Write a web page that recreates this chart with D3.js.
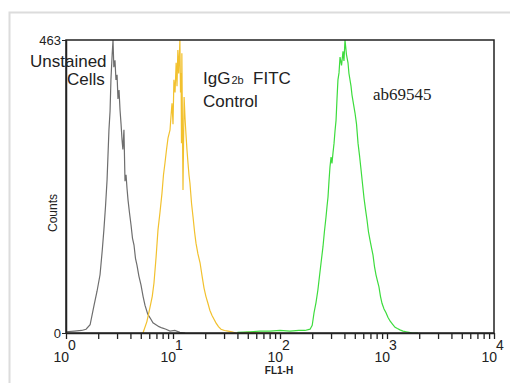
<!DOCTYPE html>
<html>
<head>
<meta charset="utf-8">
<script src="https://cdn.jsdelivr.net/npm/d3@7"></script>
<style>
  body { margin: 0; background: #fff; }
  svg { display: block; }
</style>
</head>
<body>
<svg width="510" height="383"></svg>
<script>
// FL1-H value (log) and counts for each histogram
var grayFl = [1.0, 1.2, 1.4, 1.54, 1.68, 1.83, 1.95, 2.08, 2.18, 2.26, 2.34, 2.42, 2.52, 2.58, 2.63, 2.70, 2.75, 2.80, 2.87, 2.93, 3.00, 3.06, 3.13, 3.20, 3.27, 3.34, 3.40, 3.48, 3.56, 3.64, 3.72, 3.80, 3.92, 4.05, 4.18, 4.32, 4.46, 4.61, 4.80, 5.02, 5.25, 5.47, 5.80, 6.10, 6.50, 6.93, 7.40, 7.89, 8.60, 9.38, 10.4, 11.6, 13.0];
var grayCt = [2, 3, 4, 6, 13, 44, 66, 92, 130, 163, 200, 242, 321, 350, 400, 440, 463, 420, 431, 400, 408, 370, 384, 352, 330, 305, 290, 321, 240, 250, 228, 210, 190, 171, 150, 139, 118, 107, 90, 76, 58, 44, 30, 24, 16, 13, 10, 8, 6, 3, 4, 1, 0];

var yellowFl = [5.24, 5.70, 6.10, 6.40, 6.64, 6.95, 7.24, 7.55, 7.89, 8.15, 8.42, 8.70, 8.98, 9.38, 9.60, 9.79, 10.0, 10.2, 10.45, 10.7, 10.9, 11.1, 11.3, 11.6, 11.75, 11.9, 12.0, 12.1, 12.25, 12.4, 12.55, 12.7, 12.95, 13.2, 13.5, 13.8, 14.1, 14.4, 14.9, 15.4, 15.9, 16.4, 17.1, 17.9, 18.7, 19.5, 20.3, 21.2, 22.1, 23.1, 24.1, 25.2, 26.6, 28.1, 30.3, 32.7, 35.5, 38.8, 50, 70, 100];
var yellowCt = [0, 18, 41, 58, 79, 120, 163, 190, 221, 250, 269, 290, 308, 321, 345, 363, 330, 400, 380, 427, 390, 447, 410, 463, 380, 411, 300, 442, 330, 226, 300, 373, 340, 316, 290, 269, 250, 237, 205, 183, 160, 142, 125, 111, 90, 71, 58, 47, 36, 28, 22, 16, 10, 6, 4, 3, 2, 0, 1, 0, 0];

var greenFl = [40, 52.5, 65, 80.7, 100, 124, 150, 171, 191, 200, 208, 217, 226, 234, 242, 252, 260, 269, 275, 281, 287, 293, 300, 306, 313, 320, 327, 334, 341, 348, 356, 364, 376, 388, 396, 405, 418, 432, 441, 451, 461, 471, 486, 502, 519, 536, 554, 572, 591, 610, 630, 650, 671, 693, 716, 740, 764, 789, 815, 841, 869, 898, 938, 979, 1020, 1067, 1125, 1189, 1250, 1322, 1410, 1506, 1610, 1714, 1830, 1951];
var greenCt = [1, 2, 3, 3, 4, 3, 4, 4, 6, 12, 32, 48, 68, 90, 111, 136, 160, 183, 200, 215, 240, 262, 278, 268, 285, 300, 320, 336, 370, 400, 411, 436, 423, 445, 430, 463, 440, 427, 410, 400, 390, 376, 362, 348, 330, 300, 280, 258, 235, 213, 195, 179, 160, 147, 135, 123, 105, 92, 82, 73, 58, 47, 38, 32, 25, 19, 14, 9, 7, 5, 3, 2, 1, 0, 0, 0];

var series = [
  { fl: grayFl, ct: grayCt, color: '#6e6e6e' },
  { fl: yellowFl, ct: yellowCt, color: '#f2c12e' },
  { fl: greenFl, ct: greenCt, color: '#3ddc3d' }
];

var decades = [1, 10, 100, 1000, 10000];
var decadeExp = ['0', '1', '2', '3', '4'];
var yMax = 463;

var svg = d3.select('svg');

// light frame around the figure
svg.append('path')
  .attr('d', 'M9.5,383 V12.5 H510')
  .attr('fill', 'none')
  .attr('stroke', '#dcdcdc')
  .attr('stroke-width', 2);

var x = d3.scaleLog().domain([1, 10000]).range([66, 494]);
var y = d3.scaleLinear().domain([0, yMax]).range([333, 40]);

// curves
var line = d3.line()
  .x(d => x(d[0]))
  .y(d => y(d[1]));

series.forEach(function(s) {
  var pts = s.fl.map((v, i) => [v, s.ct[i]]);
  svg.append('path')
    .datum(pts)
    .attr('d', line)
    .attr('fill', 'none')
    .attr('stroke', s.color)
    .attr('stroke-width', 1.2);
});

// box
svg.append('rect')
  .attr('x', x(1))
  .attr('y', y(yMax))
  .attr('width', x(10000) - x(1))
  .attr('height', y(0) - y(yMax))
  .attr('fill', 'none')
  .attr('stroke', '#222')
  .attr('stroke-width', 1.5);

// bottom axis, log minor ticks
var xAxis = d3.axisBottom(x)
  .tickValues(x.ticks())
  .tickFormat('')
  .tickSize(6)
  .tickSizeOuter(0);
var gx = svg.append('g')
  .attr('transform', 'translate(0,' + y(0) + ')')
  .call(xAxis);
gx.select('.domain').attr('stroke', '#222').attr('stroke-width', 1.5);
gx.selectAll('.tick line').attr('stroke', '#222').attr('stroke-width', 1.3);

// left axis: only 0 and max
var yAxis = d3.axisLeft(y)
  .tickValues([0, yMax])
  .tickSize(4)
  .tickSizeOuter(0)
  .tickFormat(d3.format('d'));
var gy = svg.append('g')
  .attr('transform', 'translate(' + x(1) + ',0)')
  .call(yAxis);
gy.select('.domain').attr('stroke', '#222').attr('stroke-width', 1.5);
gy.selectAll('.tick line').attr('stroke', '#222');
gy.selectAll('.tick text')
  .attr('font-family', 'Arial, Liberation Sans, sans-serif')
  .attr('font-size', 13)
  .attr('fill', '#222')
  .attr('x', -5)
  .attr('dy', '0.35em');

// decade labels 10^n
var lab = svg.append('g')
  .attr('font-family', 'Arial, Liberation Sans, sans-serif')
  .attr('font-size', 14)
  .attr('fill', '#222');
decades.forEach(function(d, i) {
  lab.append('text')
    .attr('x', x(d) + 3)
    .attr('y', 362)
    .attr('text-anchor', 'end')
    .text('10');
  lab.append('text')
    .attr('x', x(d) + 2)
    .attr('y', 350)
    .text(decadeExp[i]);
});

// axis titles
svg.append('text')
  .attr('x', 279)
  .attr('y', 374)
  .attr('text-anchor', 'middle')
  .attr('font-family', 'Arial, Liberation Sans, sans-serif')
  .attr('font-size', 10)
  .attr('font-weight', 'bold')
  .attr('fill', '#222')
  .text('FL1-H');

svg.append('text')
  .attr('transform', 'translate(57,213) rotate(-90)')
  .attr('text-anchor', 'middle')
  .attr('font-family', 'Arial, Liberation Sans, sans-serif')
  .attr('font-size', 12)
  .attr('fill', '#222')
  .text('Counts');

// annotations
var ann = svg.append('g')
  .attr('font-family', 'Arial, Liberation Sans, sans-serif')
  .attr('font-size', 17)
  .attr('fill', '#222');
ann.append('text').attr('x', 30).attr('y', 67).text('Unstained');
ann.append('text').attr('x', 67).attr('y', 85).text('Cells');

var igg = ann.append('text').attr('x', 203).attr('y', 84);
igg.append('tspan').text('IgG');
igg.append('tspan').attr('font-size', 11).attr('dx', 1).text('2b');
igg.append('tspan').attr('dx', 0).text('\u00a0 FITC');
ann.append('text').attr('x', 203).attr('y', 107).text('Control');

svg.append('text')
  .attr('x', 373)
  .attr('y', 100)
  .attr('font-family', 'Times New Roman, Liberation Serif, serif')
  .attr('font-size', 17)
  .attr('fill', '#222')
  .text('ab69545');
</script>
</body>
</html>
